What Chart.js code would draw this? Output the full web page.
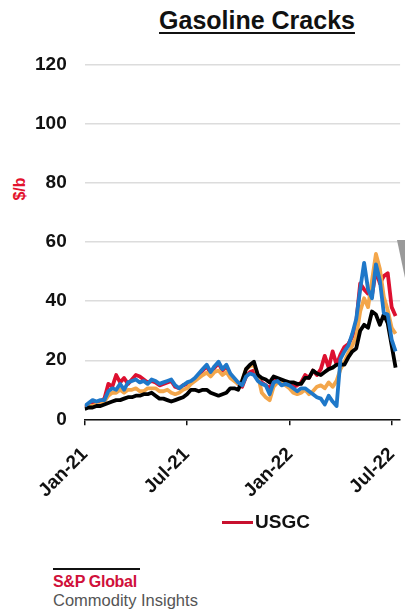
<!DOCTYPE html>
<html>
<head>
<meta charset="utf-8">
<script src="https://cdn.jsdelivr.net/npm/chart.js@4.4.1/dist/chart.umd.min.js"></script>
<style>
    body { margin: 0; width: 405px; height: 613px; position: relative; background: #fff; overflow: hidden;
           font-family: 'Liberation Sans', Arial, sans-serif; }
    #title { position: absolute; left: 0; width: 514px; top: 6px; text-align: center;
             font-size: 25px; font-weight: bold; color: #111; text-decoration: underline;
             text-underline-offset: 3px; text-decoration-thickness: 2px; }
    #ylab { position: absolute; left: 20px; top: 189px; transform: translate(-50%, -50%) rotate(-90deg);
            font-size: 16px; font-weight: bold; color: #e3122d; }
    #wrap { position: absolute; left: 0; top: 0; width: 426px; height: 520px; }
    #legend { position: absolute; left: 222px; top: 511px; font-size: 19px; font-weight: bold; color: #111; }
    #legend span { display: inline-block; width: 31px; height: 3px; background: #c8102e; vertical-align: middle; margin-right: 2px; }
    #logo { position: absolute; left: 53px; top: 568px; }
    #logo .bar { width: 87px; height: 2px; background: #111; }
    #logo .sp { font-size: 16px; font-weight: bold; color: #d0103a; margin-top: 3px; letter-spacing: -0.3px; }
    #logo .ci { font-size: 16.5px; color: #555; margin-top: 0; }
    #wedge { position: absolute; left: 397px; top: 240px; width: 8px; height: 38px; background: #9a9a9a;
             clip-path: polygon(0 0, 100% 0, 100% 100%); }
</style>
</head>
<body>
<div id="title">Gasoline Cracks</div>
<div id="ylab">$/b</div>
<div id="wrap"><canvas id="crackChart"></canvas></div>
<div id="wedge"></div>
<div id="legend"><span></span>USGC</div>
<div id="logo">
    <div class="bar"></div>
    <div class="sp">S&amp;P Global</div>
    <div class="ci">Commodity Insights</div>
</div>

<script>
// weekly observations, x = days since 1 Jan 2021
const tickDays = [0, 181, 365, 546];
const tickLabels = ['Jan-21', 'Jul-21', 'Jan-22', 'Jul-22'];

// $/b
const usgc = [4, 5, 6, 5.5, 6, 7, 12, 11, 15, 12.5, 14, 12, 13.5, 15, 14.5, 13.5, 12.5, 13, 12.5, 11.5,
    12, 12.5, 13, 11, 10.5, 11.5, 12, 12.5, 13.5, 15, 16.5, 18, 15.5, 17.5, 19, 16.5, 18, 15, 13.5, 12,
    11, 14.5, 16, 16.5, 14, 12.5, 11.5, 10.5, 13, 13.5, 12, 12.5, 12, 11, 11.5, 12.5, 15, 14, 16.5, 15,
    17, 21.5, 17.5, 23, 18.5, 22, 24.5, 25.5, 28, 33, 46, 44, 42.5, 42, 50.5, 46, 48.5, 49.5, 38, 35];
const orange = [4, 4.5, 4.5, 5, 5, 6, 8, 9, 9, 10, 9, 10, 10, 10.5, 9.5, 9.5, 10.5, 10.5, 10.5, 9.5,
    9.5, 10, 9, 8.5, 9, 10, 10.5, 12, 13, 14, 15, 15.8, 14.5, 16, 16.5, 15, 16, 14, 13, 12,
    13, 17, 18, 18.5, 15, 9, 7.5, 6.5, 11, 12.5, 12.5, 11.5, 10.5, 9, 8.5, 9, 10, 8.5, 9.5, 11,
    11.5, 10.5, 12.5, 11, 13, 17, 19.5, 22.5, 25, 28, 36.5, 41, 38, 47, 56, 51, 41.5, 37, 31, 29];
const black = [3.5, 4, 4, 4.5, 4.5, 5, 5.5, 6, 6.5, 6.5, 7, 7.5, 7.5, 8, 8, 8.5, 8.5, 9, 8, 7,
    7, 6.5, 6, 6.5, 7, 7.5, 8.5, 10, 10, 9.5, 10, 10, 9, 8.5, 8, 8.5, 9, 10.5, 10.5, 10,
    13, 17, 18.5, 19.5, 15, 14, 13.5, 12.5, 14.5, 14, 13.5, 13, 12.5, 12.5, 12, 12, 14, 14, 16.5, 15.5,
    15, 16, 17, 17.5, 18.5, 18.5, 18.5, 21, 23, 24, 30, 32, 31, 36.5, 35.5, 32, 35.5, 32.5, 25, 17.5];
const blue = [4.5, 5.5, 6.5, 6, 6.5, 6.5, 9.5, 10.5, 10, 12, 10, 12.5, 13, 13.5, 12.5, 13, 12, 13.5, 13, 12,
    12.5, 13, 13.5, 11.5, 10.5, 11.5, 12.5, 13, 14, 15.5, 17, 18.5, 16, 18, 19.5, 17, 18.5, 15.5, 14, 12.5,
    11.5, 14.5, 15.5, 15, 13, 12, 11.5, 8.5, 12.5, 13, 11.5, 12, 11.5, 10.5, 9.5, 10.5, 10.5, 9.5, 8.5, 7.5,
    7, 5, 8, 6, 4.5, 20.5, 23, 25, 29, 34, 44, 53, 44, 41, 52.5, 47, 36, 35.5, 27, 23];

const toPoints = (arr) => arr.map((v, i) => ({ x: i * 7, y: v }));

const TICK_FONT = { family: "'Liberation Sans', Arial, sans-serif", size: 19, weight: 'bold' };

new Chart(document.getElementById('crackChart'), {
    type: 'line',
    data: {
        datasets: [
            { label: 'Blue', data: toPoints(blue), borderColor: '#1f78c9' },
            { label: 'Black', data: toPoints(black), borderColor: '#000000' },
            { label: 'Orange', data: toPoints(orange), borderColor: '#f3a64b' },
            { label: 'USGC', data: toPoints(usgc), borderColor: '#dd1030' }
        ].map(ds => Object.assign(ds, {
            borderWidth: 3.8,
            pointRadius: 0,
            tension: 0,
            borderJoinStyle: 'round',
            fill: false
        }))
    },
    options: {
        responsive: true,
        maintainAspectRatio: false,
        animation: false,
        layout: { padding: { top: 65, left: 17, right: 8, bottom: 0 } },
        plugins: {
            legend: { display: false },
            tooltip: { enabled: false }
        },
        scales: {
            x: {
                type: 'linear',
                min: 0,
                max: 561,
                afterBuildTicks: (scale) => { scale.ticks = tickDays.map(v => ({ value: v })); },
                ticks: {
                    autoSkip: false,
                    minRotation: 45,
                    maxRotation: 45,
                    color: '#111',
                    font: TICK_FONT,
                    padding: 18,
                    callback: (v) => tickLabels[tickDays.indexOf(v)]
                },
                grid: { drawOnChartArea: false, drawTicks: true, tickLength: 6, color: '#111', lineWidth: 1.5 },
                border: { display: true, color: '#111', width: 1.5 }
            },
            y: {
                min: 0,
                max: 120,
                ticks: { stepSize: 20, color: '#111', font: TICK_FONT, padding: 18 },
                grid: { color: '#dcdcdc', lineWidth: 1.5, drawTicks: false },
                border: { display: false }
            }
        }
    }
});
</script>
</body>
</html>
